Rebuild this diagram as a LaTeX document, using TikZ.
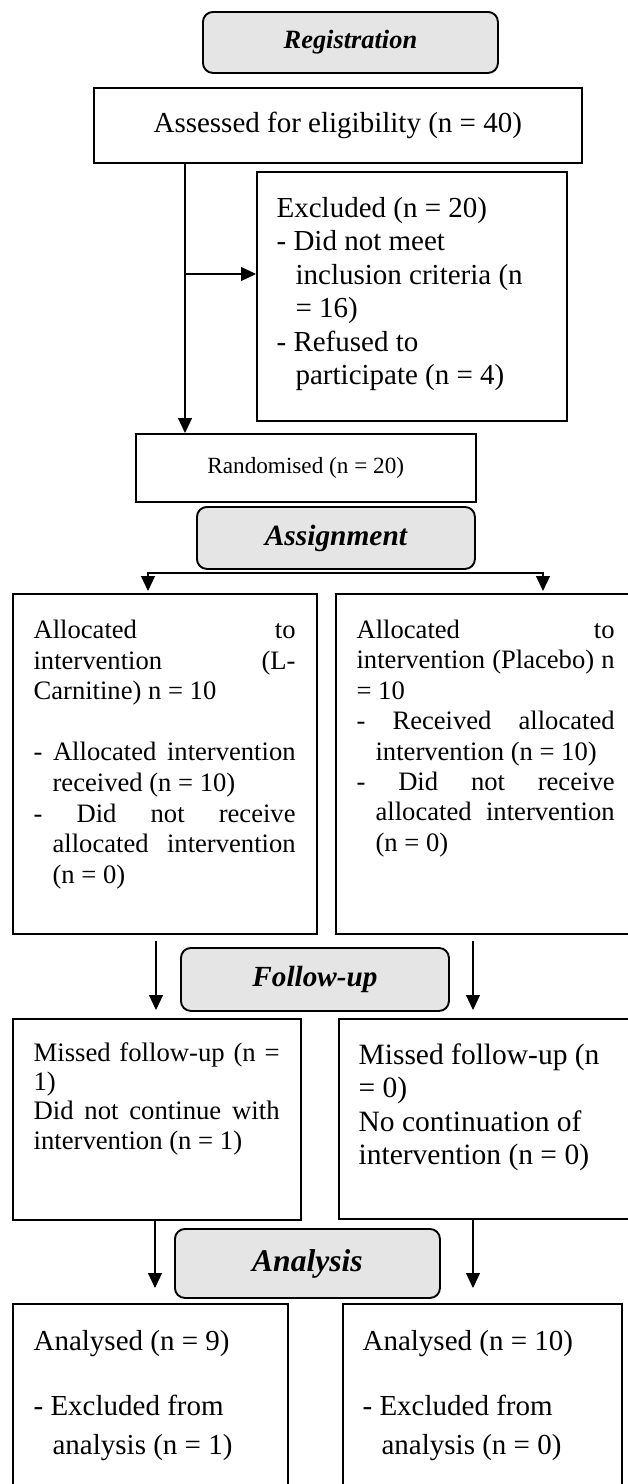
\documentclass[tikz,border=0pt]{standalone}
\usepackage{fontspec}
\setmainfont{Liberation Serif}
\usetikzlibrary{arrows.meta,positioning,calc}
\hbadness=10000
\newcommand{\hyitem}{\par\hangindent=9.5pt -\ }
\newcommand{\plainsp}{\spaceskip=0pt\xspaceskip=0pt\relax}

\begin{document}
\begin{tikzpicture}[x=0.5pt,y=-0.5pt,>={Triangle[length=7.5pt,width=7pt]},line width=0.6pt,
  box/.style={draw,line width=0.75pt,anchor=north west,inner sep=0pt},
  stage/.style={draw,line width=0.95pt,rounded corners=5pt,fill=gray!20,anchor=north west,inner sep=0pt,
    font=\bfseries\itshape\fontsize{#1}{#1}\selectfont},
  txt/.style n args={2}{inner sep=0pt,anchor=base west,align=justify,font=\fontsize{#1}{#2}\selectfont}]
\useasboundingbox (0,0) rectangle (627,1484);

% registration
\node[stage=13.2pt,minimum width=147.5pt,minimum height=30.5pt] (reg) at (202,11) {Registration};
\node[box,minimum width=244pt,minimum height=37.5pt,font=\fontsize{14.5pt}{16.75pt}\selectfont] (assess) at (93,87) {Assessed for eligibility (n = 40)};
\node[box,minimum width=155pt,minimum height=124.5pt] (excl) at (256,171) {};
\node[txt={14.5pt}{16.75pt},text width=135pt,align=left] (excltxt) at ($(excl.north west)+(20,46)$)
  {\plainsp Excluded (n = 20)\hyitem Did not meet\newline inclusion criteria (n\newline = 16)\hyitem Refused to\newline participate (n = 4)\par};
\node[box,minimum width=170pt,minimum height=34pt,font=\fontsize{11.6pt}{13pt}\selectfont] (rand) at (135,433) {Randomised (n = 20)};
\coordinate (trunk) at (185,274);
\draw[->] (assess.south -| trunk) -- (rand.north -| trunk);
\draw[->] (trunk) -- (trunk -| excl.west);

% assignment
\node[stage=14.7pt,minimum width=139pt,minimum height=31pt] (assign) at (196,506) {Assignment};
\node[box,minimum width=152pt,minimum height=170pt] (allocl) at (12,593) {};
\node[txt={13.3pt}{15.3pt},text width=131pt] (allocltxt) at ($(allocl.north west)+(21,45.5)$)
  {Allocated to\linebreak intervention (L-\linebreak Carnitine) n = 10\par\vspace{\baselineskip}\hyitem Allocated intervention\linebreak received (n = 10)\hyitem Did not receive\linebreak allocated intervention\linebreak (n = 0)\par};
\node[box,minimum width=149pt,minimum height=170pt] (allocr) at (335,593) {};
\node[txt={13.3pt}{15.2pt},text width=129pt] (allocrtxt) at ($(allocr.north west)+(21,45.5)$)
  {Allocated to\linebreak intervention (Placebo) n\linebreak = 10\hyitem Received allocated\linebreak intervention (n = 10)\hyitem Did not receive\linebreak allocated intervention\linebreak (n = 0)\par};
\coordinate (sl) at (148,573);
\coordinate (sr) at (543,573);
\draw[<->,shorten <=1pt,shorten >=1pt] (sl |- allocl.north) -- (sl) -- (sr) -- (sr |- allocr.north);

% follow-up
\node[stage=14.6pt,minimum width=134pt,minimum height=31.5pt] (follow) at (180,947) {Follow-up};
\node[box,minimum width=144pt,minimum height=100.5pt] (missl) at (12,1018) {};
\node[txt={13.35pt}{14.7pt},text width=123pt] (missltxt) at ($(missl.north west)+(21,43)$)
  {Missed follow-up (n =\linebreak 1)\par Did not continue with\linebreak intervention (n = 1)\par};
\node[box,minimum width=151pt,minimum height=100pt] (missr) at (338,1018) {};
\node[txt={14.75pt}{16.75pt},text width=130pt,align=left] (missrtxt) at ($(missr.north west)+(20,46)$)
  {\plainsp Missed follow-up (n\newline = 0)\newline No continuation of\newline intervention (n = 0)\par};
\coordinate (fl) at (156,0);
\coordinate (fr) at (473,0);
\draw[->,shorten <=3pt,shorten >=4pt] (allocl.south -| fl) -- (missl.north -| fl);
\draw[->,shorten <=3pt,shorten >=4pt] (allocr.south -| fr) -- (missr.north -| fr);

% analysis
\node[stage=15.8pt,minimum width=132.5pt,minimum height=34.5pt] (analysis) at (174,1228) {Analysis};
\node[box,minimum width=137.5pt,minimum height=100pt] (anl) at (12,1303) {};
\node[txt={14.5pt}{19.5pt},text width=115pt,align=left] (anltxt) at ($(anl.north west)+(21,47)$)
  {\plainsp Analysed (n = 9)\par\vspace{13pt}\hyitem Excluded from\newline analysis (n = 1)\par};
\node[box,minimum width=139.5pt,minimum height=100pt] (anr) at (342,1303) {};
\node[txt={14.5pt}{19.5pt},text width=115pt,align=left] (anrtxt) at ($(anr.north west)+(20,47)$)
  {\plainsp Analysed (n = 10)\par\vspace{13pt}\hyitem Excluded from\newline analysis (n = 0)\par};
\coordinate (al) at (155,0);
\draw[->,shorten >=7.5pt] (missl.south -| al) -- (anl.north -| al);
\draw[->,shorten >=7.5pt] (missr.south -| fr) -- (anr.north -| fr);
\end{tikzpicture}
\end{document}
